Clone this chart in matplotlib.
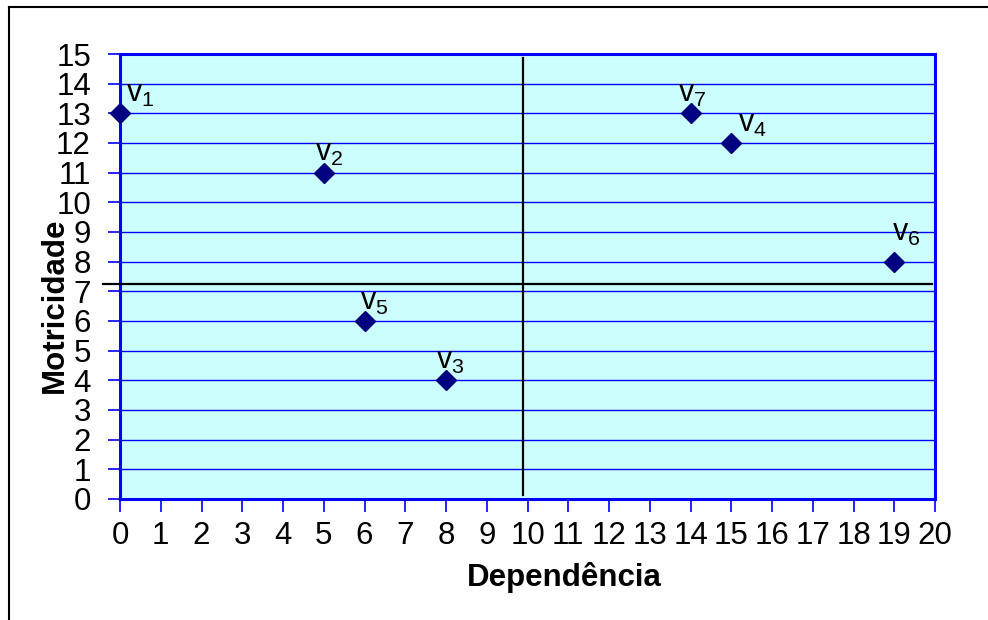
import numpy as np
import matplotlib
matplotlib.use("Agg")
import matplotlib.pyplot as plt
from matplotlib.lines import Line2D

plt.rcParams['font.family'] = ['Liberation Sans', 'DejaVu Sans']
plt.rcParams['mathtext.fontset'] = 'custom'
plt.rcParams['mathtext.rm'] = 'Liberation Sans'
plt.rcParams['mathtext.it'] = 'Liberation Sans'

# dados
nomes = ['1', '2', '3', '4', '5', '6', '7']
dependencia = [0, 5, 8, 15, 6, 19, 14]
motricidade = [13, 11, 4, 12, 6, 8, 13]
# deslocamento dos rotulos (pontos)
offsets = [(4, 3), (-6, 3), (-7, 3), (5, 3), (-3, 3), (-2, 10), (-9, 3)]

x_corte = 9.9
y_corte = 7.25

fig = plt.figure(figsize=(9.88, 6.2), dpi=100)
ax = fig.add_axes([0.1215, 0.1952, 0.8249, 0.7177])
ax.set_facecolor('#CCFFFF')

ax.set_xlim(0, 20)
ax.set_ylim(0, 15)
ax.set_xticks(range(0, 21))
ax.set_yticks(range(0, 16))
ax.yaxis.grid(True, color='#0000FF', lw=1)
ax.set_axisbelow(True)

for s in ax.spines.values():
    s.set_color('#0000FF')
    s.set_linewidth(2.2)

ax.tick_params(axis='both', direction='out', length=9, width=1.2, color='#0000FF',
               labelsize=22.5, labelcolor='black')
ax.tick_params(axis='x', pad=7)
ax.tick_params(axis='y', pad=12)

# linhas dos quadrantes
ax.plot([x_corte, x_corte], [0.15, 14.88], color='black', lw=1.6, zorder=3)
ax.plot([-0.42, 19.93], [y_corte, y_corte], color='black', lw=1.6, zorder=3, clip_on=False)

ax.plot(dependencia, motricidade, linestyle='none', marker='D', ms=10,
        color='#000080', zorder=4, clip_on=False)

for n, xv, yv, off in zip(nomes, dependencia, motricidade, offsets):
    ax.annotate('v$_{%s}$' % n, (xv, yv), xytext=off, textcoords='offset points',
                fontsize=22, ha='left', va='bottom', zorder=5)

ax.set_xlabel('Dependência', fontsize=22.5, fontweight='bold', va='center')
ax.set_ylabel('Motricidade', fontsize=22.5, fontweight='bold', va='center')
ax.xaxis.set_label_coords(0.545, -0.1775)
ax.yaxis.set_label_coords(-0.08, 0.435)

# moldura
fig.add_artist(Line2D([9 / 988, 1.0], [1 - 7 / 620, 1 - 7 / 620], color='black', lw=1.5))
fig.add_artist(Line2D([9 / 988, 9 / 988], [0.0, 1 - 7 / 620], color='black', lw=1.5))

fig.savefig('out.png', dpi=100)
